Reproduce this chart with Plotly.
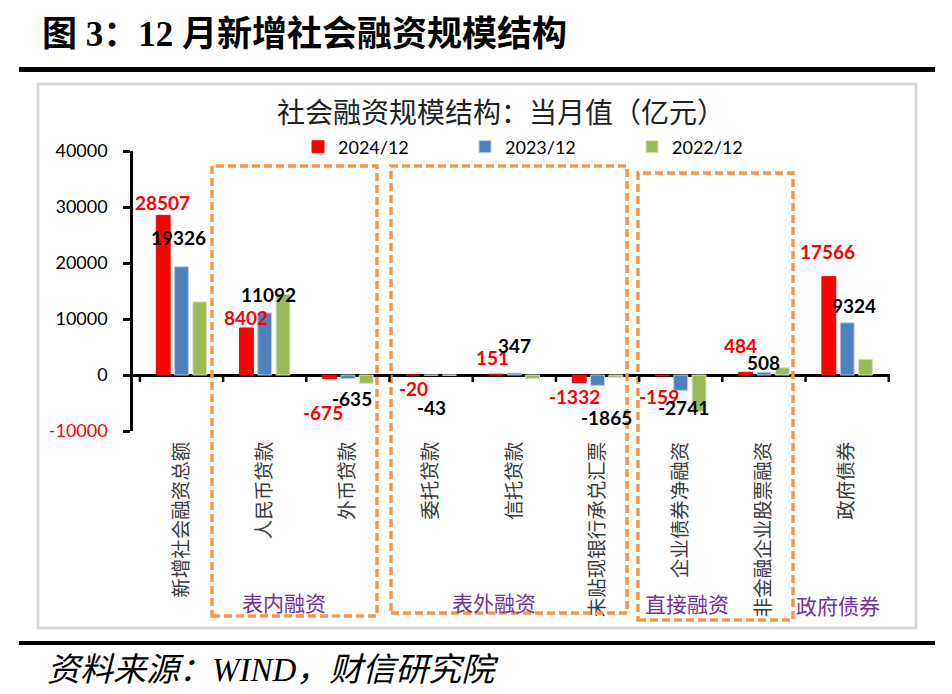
import plotly.graph_objects as go

# 社会融资规模结构（当月值，亿元）
categories = ["新增社会融资总额", "人民币贷款", "外币贷款", "委托贷款", "信托贷款",
              "未贴现银行承兑汇票", "企业债券净融资", "非金融企业股票融资", "政府债券"]
v2024 = [28507, 8402, -675, -20, 151, -1332, -159, 484, 17566]
v2023 = [19326, 11092, -635, -43, 347, -1865, -2741, 508, 9324]
v2022 = [13058, 14401, -1500, -40, -652, -400, -6500, 1300, 2800]
series_names = ["2024/12", "2023/12", "2022/12"]
y_ticks = [-10000, 0, 10000, 20000, 30000, 40000]

# label nudges in pixels (data labels were hand-placed in the original)
lab24_dx = [-19, -19, -25, -18, -22, -23, -22, -23, -20]
lab24_dy = [13, 10, -34, -13, 17, -14, -21, 27, 25]
lab23_dx = [-3, 4, 4, 0, 0, 9, 3, 0, 7]
lab23_dy = [29, 18, -20, -32, 28, -32, -17, 10, 17]

W, H = 952, 694
L, R, T, B = 133, 890, 151, 431   # plot area in pixels


def px(x):
    return (x - L) / (R - L)


def py(y):
    return (B - y) / (B - T)


fig = go.Figure()
colors = ["#FF0000", "#4F81BD", "#9BBB59"]
edges = ["#FF0000", "#B9CDE5", "#D7E4BD"]
for name, vals, c, e in zip(series_names, [v2024, v2023, v2022], colors, edges):
    fig.add_trace(go.Bar(x=categories, y=vals, name=name,
                         marker=dict(color=c, line=dict(color=e, width=1))))

ann = []
for i, cat in enumerate(categories):
    ann.append(dict(x=cat, y=v2024[i], xref="x", yref="y", text=str(v2024[i]),
                    showarrow=False, xshift=lab24_dx[i], yshift=lab24_dy[i],
                    xanchor="center", yanchor="middle",
                    font=dict(family="Lato", size=19, color="#FF0000", weight="bold")))
    ann.append(dict(x=cat, y=v2023[i], xref="x", yref="y", text=str(v2023[i]),
                    showarrow=False, xshift=lab23_dx[i], yshift=lab23_dy[i],
                    xanchor="center", yanchor="middle",
                    font=dict(family="Lato", size=19, color="black", weight="bold")))

# titles, group names, source
ann.append(dict(x=px(40), y=py(35), xref="paper", yref="paper",
                xanchor="left", yanchor="middle",
                text="图 3：12 月新增社会融资规模结构", showarrow=False,
                font=dict(family="Liberation Serif, Noto Sans CJK SC", size=35,
                          color="black", weight="bold")))
ann.append(dict(x=px(501), y=py(111), xref="paper", yref="paper",
                xanchor="center", yanchor="middle",
                text="社会融资规模结构：当月值（亿元）", showarrow=False,
                font=dict(family="Noto Sans CJK SC", size=28, color="#222")))
for label, cx, cy in [("表内融资", 284, 602), ("表外融资", 494, 602),
                      ("直接融资", 687, 603), ("政府债券", 838, 605)]:
    ann.append(dict(x=px(cx), y=py(cy), xref="paper", yref="paper", text=label,
                    xanchor="center", yanchor="middle", showarrow=False,
                    font=dict(family="Noto Sans CJK SC", size=21, color="#7030A0")))
ann.append(dict(x=px(45), y=py(670), xref="paper", yref="paper",
                xanchor="left", yanchor="middle",
                text="资料来源：WIND，财信研究院", showarrow=False,
                font=dict(family="Liberation Serif, Noto Sans CJK SC", size=33,
                          color="black", style="italic")))

shapes = []
# black rules and grey chart frame
shapes.append(dict(type="line", xref="paper", yref="paper", x0=px(19), x1=px(935),
                   y0=py(69.5), y1=py(69.5), line=dict(color="black", width=5)))
shapes.append(dict(type="line", xref="paper", yref="paper", x0=px(19), x1=px(935),
                   y0=py(643), y1=py(643), line=dict(color="black", width=4)))
shapes.append(dict(type="rect", xref="paper", yref="paper", x0=px(38), x1=px(916),
                   y0=py(628), y1=py(84), line=dict(color="#D9D9D9", width=3)))
# dashed orange group boxes
for x0, x1, y0, y1 in [(212, 377, 166, 616), (391, 627, 166, 613), (638, 793, 173, 620)]:
    shapes.append(dict(type="rect", xref="paper", yref="paper", x0=px(x0), x1=px(x1),
                       y0=py(y1), y1=py(y0),
                       line=dict(color="#F79646", width=3.5, dash="8px,4px")))
# category boundary ticks on the zero line
for k in range(len(categories) + 1):
    shapes.append(dict(type="line", xref="x", yref="y", x0=k - 0.5, x1=k - 0.5,
                       ysizemode="pixel", yanchor=0, y0=0, y1=-7,
                       line=dict(color="black", width=2.5)))

tick_text = [f"<span style='color:red'>{v}</span>" if v < 0 else str(v) for v in y_ticks]

fig.update_layout(
    width=W, height=H,
    margin=dict(l=L, r=W - R, t=T, b=H - B, autoexpand=False),
    paper_bgcolor="white", plot_bgcolor="white",
    barmode="group", bargap=0.34, bargroupgap=0.243,
    showlegend=True,
    legend=dict(orientation="h", x=px(298), y=py(147), xanchor="left", yanchor="middle",
                entrywidth=122, entrywidthmode="pixels",
                font=dict(family="Lato", size=18, color="black"),
                bgcolor="rgba(0,0,0,0)"),
    annotations=ann, shapes=shapes,
)
fig.update_xaxes(type="category", showgrid=False, showline=False, zeroline=False,
                 ticks="outside", ticklen=2, tickcolor="rgba(0,0,0,0)", tickangle=-90,
                 tickfont=dict(family="Noto Sans CJK SC", size=19.5, color="#3a3a3a"))
fig.update_yaxes(range=[-10000, 40000], tickvals=y_ticks, ticktext=tick_text,
                 showgrid=False, showline=True, linecolor="black", linewidth=2.5,
                 ticks="outside", ticklen=7, tickwidth=2.5, tickcolor="black",
                 zeroline=True, zerolinecolor="black", zerolinewidth=3,
                 ticklabelstandoff=12,
                 tickfont=dict(family="Lato", size=18, color="black"))

fig.write_html("out.html", config={"displayModeBar": False},
               post_script="document.body.style.margin='0';document.body.style.overflow='hidden';")
